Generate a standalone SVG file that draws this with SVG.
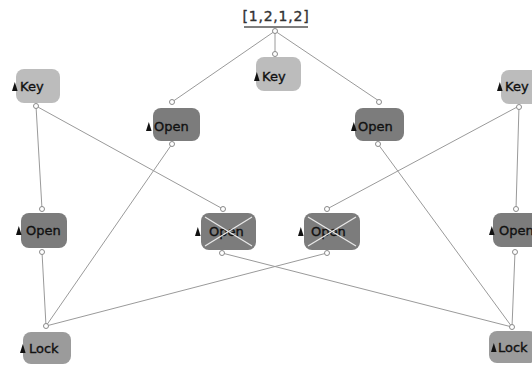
<svg xmlns="http://www.w3.org/2000/svg" width="532" height="365" viewBox="0 0 532 365">
<defs>
<style>
.key{fill:#bcbcbc}
.open{fill:#7c7c7c}
.lock{fill:#9b9b9b}
.lbl{font-family:"DejaVu Sans","Liberation Sans",sans-serif;font-size:13px;fill:#111;stroke:#111;stroke-width:0.35px}
.edge{stroke:#9a9a9a;stroke-width:1;fill:none}
.port{fill:#fff;stroke:#8a8a8a;stroke-width:1}
.cross{stroke:#e8e8e8;stroke-width:1.3}
</style>
<path id="tri" d="M0,0 L2.8,-9 L5.6,0 Z" fill="#111"/>
</defs>
<rect width="532" height="365" fill="#fff"/>
<g id="connectors">
<line class="edge" x1="275" y1="31" x2="172" y2="102"/>
<line class="edge" x1="275" y1="31" x2="275" y2="53"/>
<line class="edge" x1="275" y1="31" x2="379" y2="101"/>
<line class="edge" x1="36" y1="106" x2="42" y2="209"/>
<line class="edge" x1="36" y1="106" x2="223" y2="209"/>
<line class="edge" x1="519" y1="106" x2="516" y2="209"/>
<line class="edge" x1="519" y1="106" x2="327" y2="209"/>
<line class="edge" x1="172" y1="144" x2="46" y2="326"/>
<line class="edge" x1="378" y1="144" x2="512" y2="327"/>
<line class="edge" x1="42" y1="252" x2="46" y2="326"/>
<line class="edge" x1="515" y1="252" x2="512" y2="327"/>
<line class="edge" x1="222" y1="253" x2="512" y2="327"/>
<line class="edge" x1="327" y1="253" x2="46" y2="326"/>
</g>
<g id="root">
<text x="276" y="21" text-anchor="middle" style="font-family:'DejaVu Sans','Liberation Sans',sans-serif;font-size:14px;fill:#333;stroke:#333;stroke-width:0.35px;letter-spacing:0.8px">[1,2,1,2]</text>
<line x1="244" y1="27" x2="308" y2="27" stroke="#555" stroke-width="1.5"/>
<circle class="port" cx="275" cy="31" r="2.5"/>
</g>
<g id="key-center">
<rect class="key" x="256" y="57" width="45" height="34" rx="8"/>
<use href="#tri" x="254" y="81"/>
<text class="lbl" x="262" y="81">Key</text>
<circle class="port" cx="275" cy="54" r="2.5"/>
</g>
<g id="key-left">
<rect class="key" x="16" y="69" width="44" height="34" rx="8"/>
<use href="#tri" x="12" y="91"/>
<text class="lbl" x="20" y="91">Key</text>
<circle class="port" cx="36" cy="106" r="2.5"/>
</g>
<g id="key-right">
<rect class="key" x="501" y="70" width="44" height="34" rx="8"/>
<use href="#tri" x="497" y="91"/>
<text class="lbl" x="505" y="91">Key</text>
<circle class="port" cx="519" cy="107" r="2.5"/>
</g>
<g id="open-upper-left">
<rect class="open" x="153" y="108" width="47" height="33" rx="8"/>
<use href="#tri" x="146" y="131"/>
<text class="lbl" x="154" y="131">Open</text>
<circle class="port" cx="172" cy="102" r="2.5"/>
<circle class="port" cx="172" cy="144" r="2.5"/>
</g>
<g id="open-upper-right">
<rect class="open" x="355" y="108" width="49" height="33" rx="8"/>
<use href="#tri" x="351" y="131"/>
<text class="lbl" x="358" y="131">Open</text>
<circle class="port" cx="379" cy="102" r="2.5"/>
<circle class="port" cx="378" cy="144" r="2.5"/>
</g>
<g id="open-crossed-1">
<rect class="open" x="201" y="213" width="55" height="37" rx="8"/>
<use href="#tri" x="195" y="236"/>
<text class="lbl" x="209" y="236">Open</text>
<line class="cross" x1="205" y1="217" x2="252" y2="246"/>
<line class="cross" x1="252" y1="217" x2="205" y2="246"/>
<circle class="port" cx="223" cy="209" r="2.5"/>
<circle class="port" cx="222" cy="253" r="2.5"/>
</g>
<g id="open-crossed-2">
<rect class="open" x="304" y="213" width="56" height="37" rx="8"/>
<use href="#tri" x="298" y="236"/>
<text class="lbl" x="311" y="236">Open</text>
<line class="cross" x1="308" y1="217" x2="356" y2="246"/>
<line class="cross" x1="356" y1="217" x2="308" y2="246"/>
<circle class="port" cx="327" cy="209" r="2.5"/>
<circle class="port" cx="327" cy="253" r="2.5"/>
</g>
<g id="open-lower-left">
<rect class="open" x="21" y="213" width="46" height="35" rx="8"/>
<use href="#tri" x="16" y="235"/>
<text class="lbl" x="26" y="235">Open</text>
<circle class="port" cx="42" cy="209" r="2.5"/>
<circle class="port" cx="42" cy="252" r="2.5"/>
</g>
<g id="open-lower-right">
<rect class="open" x="493" y="213" width="48" height="34" rx="8"/>
<use href="#tri" x="489" y="235"/>
<text class="lbl" x="499" y="235">Open</text>
<circle class="port" cx="516" cy="209" r="2.5"/>
<circle class="port" cx="515" cy="252" r="2.5"/>
</g>
<g id="lock-left">
<rect class="lock" x="23" y="332" width="48" height="32" rx="8"/>
<use href="#tri" x="20" y="353"/>
<text class="lbl" x="29" y="353">Lock</text>
<circle class="port" cx="46" cy="326" r="2.5"/>
</g>
<g id="lock-right">
<rect class="lock" x="489" y="331" width="48" height="32" rx="8"/>
<use href="#tri" x="491" y="352"/>
<text class="lbl" x="498" y="352">Lock</text>
<circle class="port" cx="512" cy="327" r="2.5"/>
</g>
</svg>
